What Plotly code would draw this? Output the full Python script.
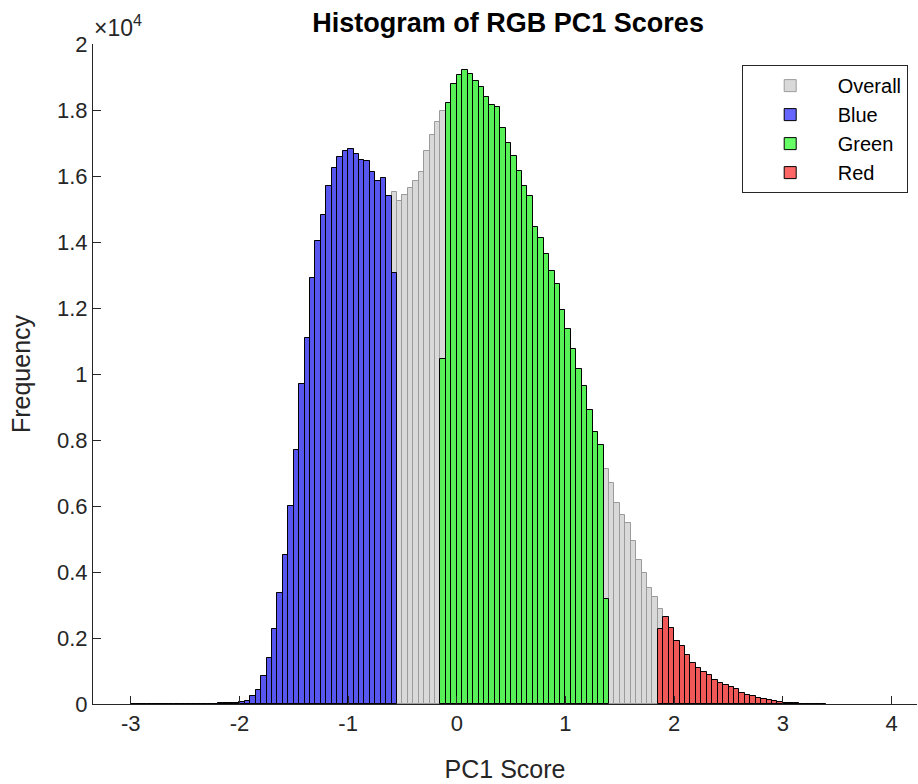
import numpy as np
import plotly.graph_objects as go

# ---- data (counts per 0.05-wide bin) ----
bin_width = 0.05
overall_start = -3.00
overall_counts = [
    2, 1, 1, 2, 2, 3, 2, 4, 3, 5, 6, 6, 8, 10, 12, 15, 18, 24, 30, 40,
    60, 90, 240, 430, 850, 1380, 2260, 3350, 4530, 6010, 7700, 9700, 11100, 12900,
    14020, 14830, 15690, 16250, 16570, 16750, 16810, 16660, 16490, 16440, 16120,
    15850, 15930, 15400,
    15520,
    15230, 15430, 15650, 15860, 16110, 16770, 17250, 17650,
    17980,
    18210, 18790, 19070, 19200, 19100, 18890, 18710, 18390, 18160, 18090, 17450,
    17000, 16620, 16160, 15700, 15400, 14460, 14110, 13650, 13110, 12730, 11950,
    11350, 10750, 10150, 9650, 8920, 8240, 7850,
    7130,
    6690, 6100, 5740, 5500, 4950, 4370, 3980, 3530, 3230,
    2880,
    2630, 2290, 1920, 1770, 1490, 1250, 1100, 980, 880, 730, 650, 580, 530, 450,
    320, 270, 240, 190, 140, 120, 90, 70, 40, 30, 20, 12, 8, 5, 3, 2,
]

blue_start = -3.00
blue_counts = [
    2, 1, 1, 2, 2, 3, 2, 4, 3, 5, 6, 6, 8, 10, 12, 15, 18, 24, 30, 40,
    60, 90, 240, 430, 850, 1380, 2260, 3350, 4530, 6010, 7700, 9700, 11100, 12900,
    14020, 14830, 15690, 16250, 16570, 16750, 16810, 16660, 16490, 16440, 16120,
    15850, 15930, 15400, 13070,
]

green_start = -0.15
green_counts = [
    10460,
    18210, 18790, 19070, 19200, 19100, 18890, 18710, 18390, 18160, 18090, 17450,
    17000, 16620, 16160, 15700, 15400, 14460, 14110, 13650, 13110, 12730, 11950,
    11350, 10750, 10150, 9650, 8920, 8240, 7850,
    3170,
]

red_start = 1.85
red_counts = [
    2270,
    2630, 2290, 1920, 1770, 1490, 1250, 1100, 980, 880, 730, 650, 580, 530, 450,
    320, 270, 240, 190, 140, 120, 90, 70, 40, 30, 20, 12, 8, 5, 3, 2,
]

x_tick_vals = [-3, -2, -1, 0, 1, 2, 3, 4]
x_tick_text = ["-3", "-2", "-1", "0", "1", "2", "3", "4"]
y_tick_vals = [0, 2000, 4000, 6000, 8000, 10000, 12000, 14000, 16000, 18000, 20000]
y_tick_text = ["0", "0.2", "0.4", "0.6", "0.8", "1", "1.2", "1.4", "1.6", "1.8", "2"]


def centers(start, counts):
    return np.round(start + bin_width * (np.arange(len(counts)) + 0.5), 4)


FONT = "Liberation Sans, Arial, Helvetica, sans-serif"
TXT = "#262626"

series = [
    ("Overall", overall_start, overall_counts, "rgba(191,191,191,0.6)", "rgb(155,155,155)"),
    ("Blue", blue_start, blue_counts, "rgba(0,0,255,0.6)", "rgb(0,0,0)"),
    ("Green", green_start, green_counts, "rgba(0,255,0,0.6)", "rgb(0,0,0)"),
    ("Red", red_start, red_counts, "rgba(255,0,0,0.6)", "rgb(0,0,0)"),
]

fig = go.Figure()
for name, start, counts, fill, edge in series:
    fig.add_trace(go.Bar(
        x=centers(start, counts), y=counts, width=bin_width, name=name,
        marker=dict(color=fill, line=dict(color=edge, width=1)),
    ))

fig.update_layout(
    width=918, height=784,
    margin=dict(l=93, r=1, t=44, b=80),
    barmode="overlay", bargap=0,
    paper_bgcolor="white", plot_bgcolor="white",
    font=dict(family=FONT, color=TXT, size=20),
    title=dict(text="<b>Histogram of RGB PC1 Scores</b>", x=0.5535, xanchor="center",
               y=1 - 23 / 784, yanchor="middle",
               font=dict(family=FONT, size=27, color="black")),
    xaxis=dict(range=[-3.347, 4.234], tickvals=x_tick_vals, ticktext=x_tick_text,
               ticks="inside", ticklen=8,
               tickcolor=TXT, showline=True, linecolor=TXT, linewidth=1, showgrid=False,
               zeroline=False, tickfont=dict(size=22, color=TXT),
               title=dict(text="PC1 Score", font=dict(size=25, color=TXT), standoff=25)),
    yaxis=dict(range=[0, 20000], tickvals=y_tick_vals, ticktext=y_tick_text,
               ticks="inside", ticklen=8, tickcolor=TXT, showline=True, linecolor=TXT,
               linewidth=1, showgrid=False, zeroline=False,
               tickfont=dict(size=22, color=TXT),
               title=dict(text="Frequency", font=dict(size=25, color=TXT), standoff=19)),
    legend=dict(x=0.9887, xanchor="right", y=0.968, yanchor="top",
                bgcolor="white", bordercolor=TXT, borderwidth=1,
                font=dict(size=20, color="black"), itemwidth=85,
                tracegroupgap=2),
    showlegend=True,
)

fig.add_annotation(text="\u00d710<sup>4</sup>", xref="paper", yref="paper",
                   x=0, y=1, xanchor="left", yanchor="bottom", yshift=1, xshift=-1,
                   showarrow=False, font=dict(size=23, color=TXT, family=FONT))

fig.write_html("out.html")
